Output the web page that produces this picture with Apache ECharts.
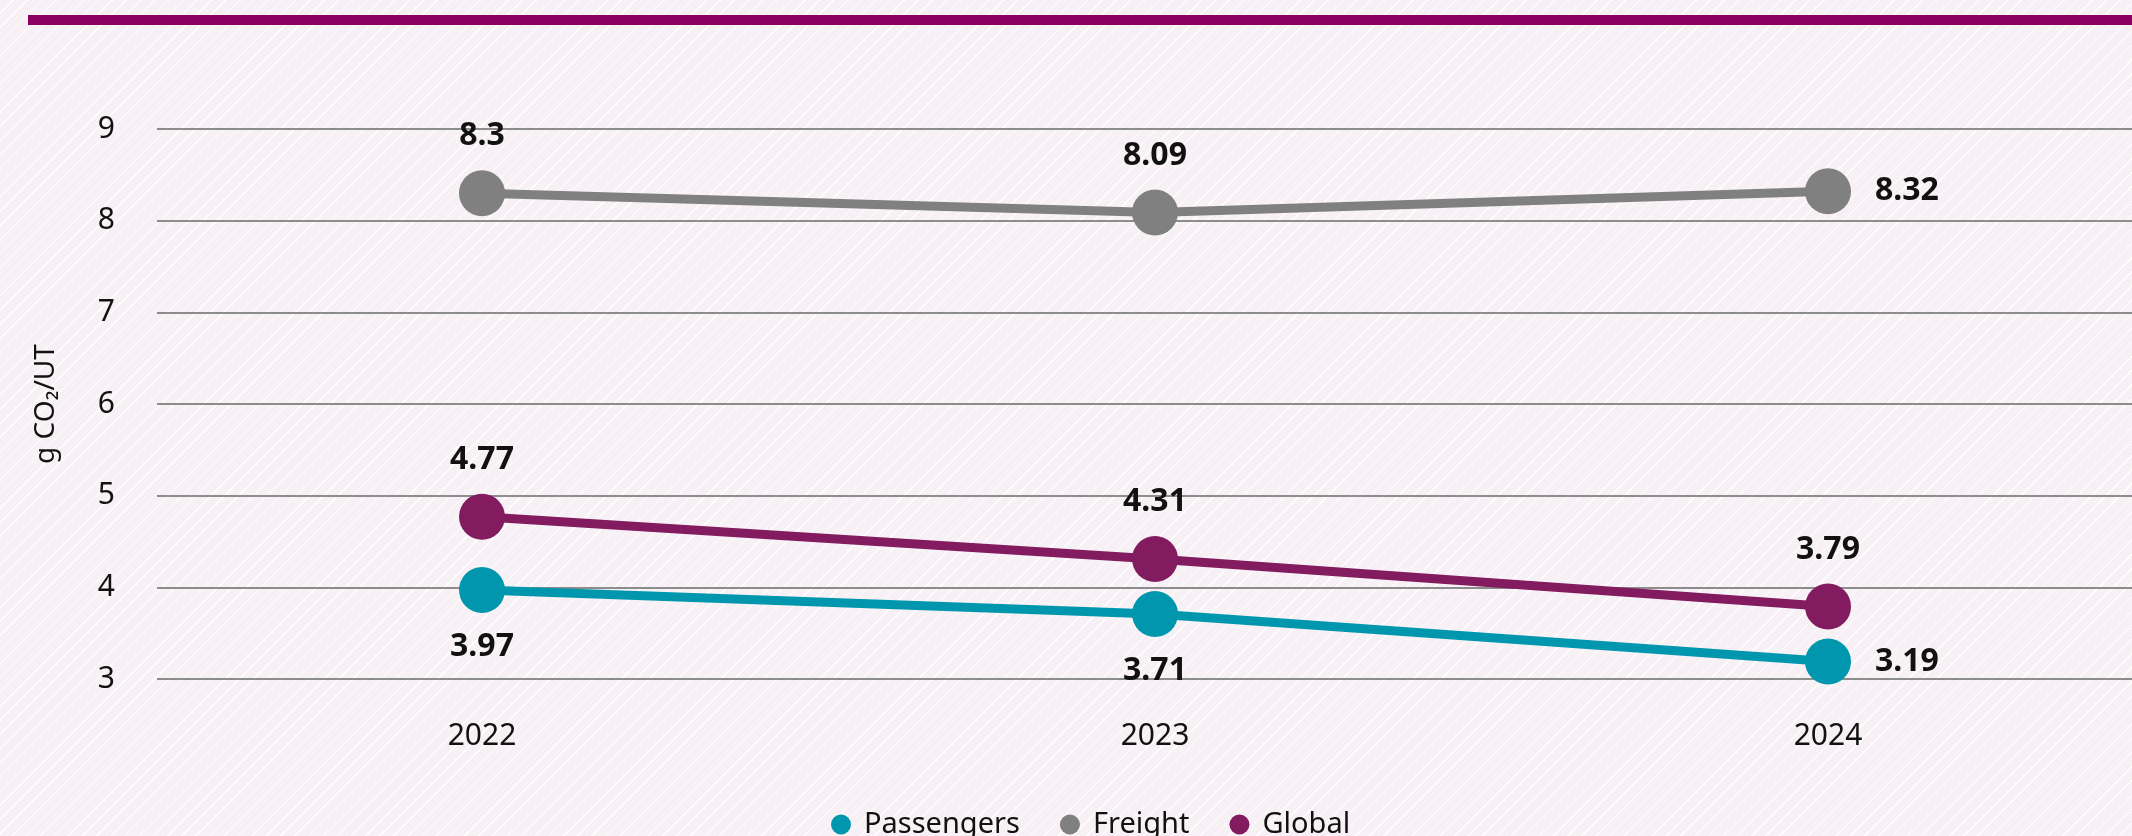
<!DOCTYPE html>
<html>
<head>
<meta charset="utf-8">
<script src="https://cdn.jsdelivr.net/npm/echarts@6/dist/echarts.min.js"></script>
<style>
html,body{margin:0;padding:0;width:2132px;height:836px;overflow:hidden;}
body{background:repeating-linear-gradient(135deg,#f7f1f5 0px,#f7f1f5 9px,#ffffff 9px,#ffffff 10px);}
#chart{width:2132px;height:836px;}
</style>
</head>
<body>
<div id="chart"></div>
<script>
const categories = ['2022', '2023', '2024'];
const passengers = [3.97, 3.71, 3.19];
const freight = [8.3, 8.09, 8.32];
const globalVals = [4.77, 4.31, 3.79];
const yTicks = [3, 4, 5, 6, 7, 8, 9];

const FONT = '"Noto Sans", sans-serif';
const chart = echarts.init(document.getElementById('chart'));

function makeData(vals, positions) {
  return vals.map((v, i) => ({
    value: v,
    label: { position: positions[i], distance: positions[i] === 'right' ? 24 : 18 }
  }));
}

const labelStyle = { show: true, fontSize: 32, fontWeight: 'bold', fontFamily: FONT, color: '#111' };

const option = {
  animation: false,
  backgroundColor: 'transparent',
  graphic: [{
    type: 'rect', left: 28, top: 15,
    shape: { width: 2104, height: 10 },
    style: { fill: '#890062' }, silent: true
  }],
  legend: {
    left: 826, top: 805,
    icon: 'circle', itemWidth: 20, itemHeight: 20, itemGap: 40,
    textStyle: { fontSize: 29, fontFamily: FONT, color: '#111', padding: [0, 0, 0, 8] },
    data: ['Passengers', 'Freight', 'Global']
  },
  grid: [
    { left: 157, right: 0, top: 129, height: 550 },
    { left: 482, right: 304, top: 129, height: 550 }
  ],
  xAxis: [
    { type: 'category', gridIndex: 0, data: categories, show: false },
    {
      type: 'category', gridIndex: 1, data: categories, boundaryGap: false,
      axisLine: { show: false }, axisTick: { show: false },
      axisLabel: { fontSize: 30, fontFamily: FONT, color: '#111', margin: 42 }
    }
  ],
  yAxis: [
    {
      type: 'value', gridIndex: 0, min: yTicks[0], max: yTicks[yTicks.length - 1], interval: 1,
      axisLine: { show: false }, axisTick: { show: false },
      axisLabel: { fontSize: 30, fontFamily: FONT, color: '#111', margin: 42 },
      splitLine: { lineStyle: { color: '#6a6a6a', width: 1.5 } },
      name: 'g CO₂/UT', nameLocation: 'middle', nameGap: 97, nameRotate: 90,
      nameTextStyle: { fontSize: 28, fontFamily: FONT, color: '#111' }
    },
    { type: 'value', gridIndex: 1, min: yTicks[0], max: yTicks[yTicks.length - 1], interval: 1, show: false }
  ],
  series: [
    {
      name: 'Passengers', type: 'line', xAxisIndex: 1, yAxisIndex: 1,
      data: makeData(passengers, ['bottom', 'bottom', 'right']),
      symbol: 'circle', symbolSize: 46,
      itemStyle: { color: '#0097ae' },
      lineStyle: { color: '#0097ae', width: 9 },
      label: labelStyle
    },
    {
      name: 'Freight', type: 'line', xAxisIndex: 1, yAxisIndex: 1,
      data: makeData(freight, ['top', 'top', 'right']),
      symbol: 'circle', symbolSize: 46,
      itemStyle: { color: '#808080' },
      lineStyle: { color: '#808080', width: 9 },
      label: labelStyle
    },
    {
      name: 'Global', type: 'line', xAxisIndex: 1, yAxisIndex: 1,
      data: makeData(globalVals, ['top', 'top', 'top']),
      symbol: 'circle', symbolSize: 46,
      itemStyle: { color: '#821b5f' },
      lineStyle: { color: '#821b5f', width: 9 },
      label: labelStyle
    }
  ]
};
chart.setOption(option);
</script>
</body>
</html>
